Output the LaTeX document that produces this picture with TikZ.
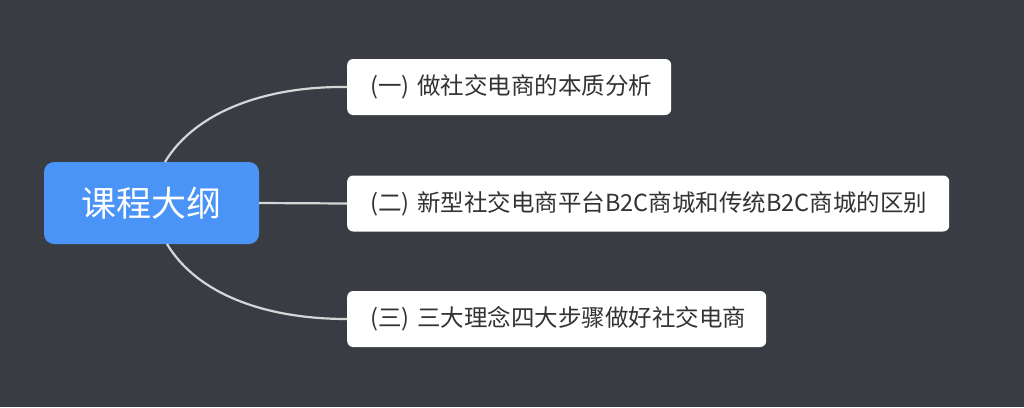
\documentclass[tikz,border=0pt]{standalone}
\usepackage{fontspec}
\setmainfont{Noto Sans CJK SC}
\definecolor{bg}{HTML}{393C42}
\definecolor{rootc}{HTML}{4A94F8}
\definecolor{linec}{HTML}{D6D6D6}
\definecolor{txt}{HTML}{333333}
\begin{document}
\begin{tikzpicture}[x=1pt,y=-1pt,
  rootbox/.style={fill=rootc,rounded corners=10pt,text=white,font=\fontsize{35}{40}\selectfont,inner sep=0pt,minimum width=215pt,minimum height=82pt},
  childbox/.style={fill=white,rounded corners=6pt,text=txt,font=\fontsize{23.5}{27}\selectfont,inner xsep=23pt,inner ysep=0pt,minimum height=56pt,anchor=west,align=left},
  conn/.style={draw=linec,line width=2.2pt}]
\fill[bg] (0,0) rectangle (1024,407);
\useasboundingbox (0,0) rectangle (1024,407);
\node[rootbox] (root) at (151.5,203) {课程大纲};
\node[childbox,text width=278pt] (c1) at (347,87) {(一)~做社交电商的本质分析};
\node[childbox,text width=556pt] (c2) at (347,203.5) {(二)~新型社交电商平台B2C商城和传统B2C商城的区别};
\node[childbox,text width=373pt] (c3) at (347,319) {(三)~三大理念四大步骤做好社交电商};
\coordinate (r1) at (165,162);
\coordinate (r3) at (167,244);
\draw[conn] (r1) .. controls (195,112) and (265,86) .. (c1.west);
\draw[conn] (root.east) -- (c2.west);
\draw[conn] (r3) .. controls (197,294) and (265,319) .. (c3.west);
\end{tikzpicture}
\end{document}
